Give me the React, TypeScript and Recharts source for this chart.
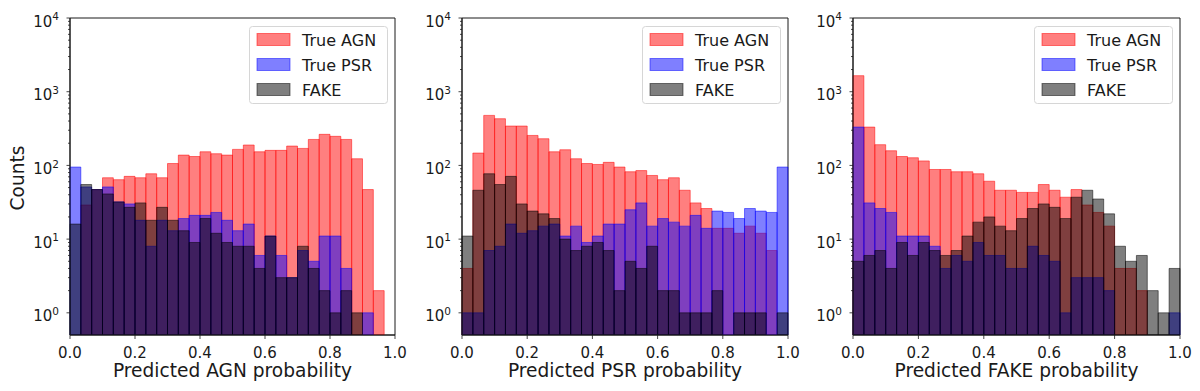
import { BarChart, Bar, XAxis, YAxis, ReferenceArea, Legend } from 'recharts';

// lower edge of each of the 30 histogram bins
const BIN_LO = [
  0, 0.033, 0.067, 0.1, 0.133, 0.167, 0.2, 0.233, 0.267, 0.3,
  0.333, 0.367, 0.4, 0.433, 0.467, 0.5, 0.533, 0.567, 0.6, 0.633,
  0.667, 0.7, 0.733, 0.767, 0.8, 0.833, 0.867, 0.9, 0.933, 0.967,
];

// Predicted AGN probability
const AGN_1 = [null, 29, 47, 68, 64, 71, 68, 77, 68, 106, 138, 132, 153, 144, 138, 165, 189, 153, 160, 160, 183, 170, 225, 264, 248, 225, 123, 47, 2, null];
const PSR_1 = [95, 51, 47, 51, 32, 30, 18, 8, 18, 13, 19, 21, 21, 23, 18, 13, 16, 6, 11, 6, 3, 7, 5, 11, 11, 4, null, 1, null, null];
const FAKE_1 = [16, 55, 47, 41, 32, 27, 31, 18, 27, 18, 13, 9, 19, 12, 9, 8, 8, 4, 11, 3, 3, 8, 4, 2, 1, 2, 1, null, null, null];

// Predicted PSR probability
const AGN_2 = [4, 147, 477, 430, 342, 342, 255, 230, 153, 163, 123, 106, 103, 110, 95, 82, 85, 73, 64, 68, 46, 31, 26, 14, 14, 12, 15, 12, 7, null];
const PSR_2 = [1, 1, 7, 8, 16, 12, 13, 15, 16, 11, 15, 9, 11, 16, 16, 25, 31, 15, 19, 17, 15, 21, 14, 24, 23, 19, 26, 24, 23, 95];
const FAKE_2 = [11, 46, 77, 55, 71, 30, 24, 22, 19, 10, 7, 8, 9, 7, 2, 5, 4, 8, 2, 2, 1, 1, 1, 2, null, 1, 1, 1, null, 1];

// Predicted FAKE probability
const AGN_3 = [1650, 331, 191, 158, 132, 127, 115, 88, 88, 82, 82, 77, 61, 46, 46, 43, 43, 55, 46, 37, 47, 29, 23, 15, 4, 4, 2, null, null, null];
const PSR_3 = [331, 31, 26, 23, 11, 11, 11, 8, 4, 6, 5, 9, 6, 6, 4, 4, 8, 6, 5, 1, 3, 3, 3, 2, null, null, null, null, null, 1];
const FAKE_3 = [5, 6, 7, 4, 9, 6, 9, 7, 6, 7, 11, 17, 20, 15, 13, 19, 26, 30, 27, 19, 37, 46, 35, 22, 8, 5, 6, 2, 1, 4];

// x tick labels sit on every 6th bin edge (0.0 ... 1.0)
const X_TICK_LABELS = ['0.0', '0.2', '0.4', '0.6', '0.8', '1.0'];
const Y_TICKS = [
  1, 2, 3, 4, 5, 6, 7, 8, 9,
  10, 20, 30, 40, 50, 60, 70, 80, 90,
  100, 200, 300, 400, 500, 600, 700, 800, 900,
  1000, 2000, 3000, 4000, 5000, 6000, 7000, 8000, 9000, 10000,
];

const LEGEND_ITEMS = [
  { name: 'True AGN', fill: 'rgba(255,0,0,0.5)', stroke: 'rgba(255,0,0,0.5)' },
  { name: 'True PSR', fill: 'rgba(0,0,255,0.5)', stroke: 'rgba(0,0,255,0.5)' },
  { name: 'FAKE', fill: 'rgba(0,0,0,0.5)', stroke: 'rgba(0,0,0,0.5)' },
];

const INK = '#1a1a1a';
const PLOT_LEFT = 70;
const RIGHT_PAD = 16;

const LogTick = (props: any) => {
  const { x, y, payload } = props;
  const v = payload.value;
  const exp = Math.log10(v);
  const major = Math.abs(exp - Math.round(exp)) < 1e-6;
  return (
    <g>
      <line x1={x - (major ? 3.5 : 2)} x2={x} y1={y} y2={y} stroke={INK} strokeWidth={0.8} />
      {major && (
        <text x={x - 11} y={y + 8.5} textAnchor="end" fontSize={15} fill={INK}>
          10<tspan dy={-6.2} fontSize={10.5}>{Math.round(exp)}</tspan>
        </text>
      )}
    </g>
  );
};

// ticks on the bin axis: draw at bin edges, every 6th bin, plus the right edge
const BinTick = (props: any) => {
  const { x, y, index, bw, last } = props;
  // tick x may be band start or band centre depending on the scale; snap to the band start
  const frac = Math.round(((x - PLOT_LEFT) / bw - index) * 2) / 2;
  const start = x - frac * bw;
  const marks: { px: number; label: string }[] = [];
  if (index % 6 === 0) marks.push({ px: start, label: X_TICK_LABELS[index / 6] });
  if (index === last) marks.push({ px: start + bw, label: X_TICK_LABELS[X_TICK_LABELS.length - 1] });
  return (
    <g>
      {marks.map((m) => (
        <g key={m.label}>
          <line x1={m.px} x2={m.px} y1={y} y2={y + 4} stroke={INK} strokeWidth={0.8} />
          <text x={m.px} y={y + 22.5} textAnchor="middle" fontSize={15} fill={INK}>{m.label}</text>
        </g>
      ))}
    </g>
  );
};

const XTitle = ({ cx, text }: any) => (
  <text x={cx} y={377} textAnchor="middle" fontSize={18.6} fill={INK}>{text}</text>
);

const YTitle = () => (
  <text x={24} y={178} textAnchor="middle" fontSize={18.6} fill={INK} transform="rotate(-90, 24, 178)">Counts</text>
);

const LegendBox = () => (
  <svg width={140} height={79} style={{ display: 'block' }}>
    <rect x={0.5} y={0.5} width={138} height={77} rx={3} fill="#fff" fillOpacity={0.8} stroke="#d6d6d6" />
    {LEGEND_ITEMS.map((it, i) => (
      <g key={it.name}>
        <rect x={8} y={7.5 + i * 25} width={33} height={12} fill={it.fill} stroke={it.stroke} />
        <text x={53} y={19.5 + i * 25} fontSize={16} fill={INK}>{it.name}</text>
      </g>
    ))}
  </svg>
);

interface PanelProps {
  left: number;
  plotWidth: number;
  agn: (number | null)[];
  psr: (number | null)[];
  fake: (number | null)[];
  xLabel: string;
  yLabel?: boolean;
}

const Panel = ({ left, plotWidth, agn, psr, fake, xLabel, yLabel }: PanelProps) => {
  const data = BIN_LO.map((b, i) => ({ bin: b, agn: agn[i], psr: psr[i], fake: fake[i] }));
  const bw = plotWidth / BIN_LO.length;
  const barSize = bw - 0.01;
  return (
    <div style={{ position: 'absolute', left, top: 0 }}>
      <BarChart
        width={PLOT_LEFT + plotWidth + RIGHT_PAD}
        height={391}
        data={data}
        margin={{ top: 18, right: RIGHT_PAD, bottom: 0, left: 0 }}
        barCategoryGap={0}
      >
        <XAxis
          xAxisId="a"
          dataKey="bin"
          interval={0}
          height={56}
          tickSize={0}
          tickMargin={0}
          tickLine={false}
          tick={<BinTick bw={bw} last={BIN_LO.length - 1} />}
          axisLine={{ stroke: INK }}
          label={<XTitle cx={PLOT_LEFT + plotWidth / 2} text={xLabel} />}
        />
        <XAxis xAxisId="p" dataKey="bin" hide />
        <XAxis xAxisId="f" dataKey="bin" hide />
        <YAxis
          type="number"
          scale="log"
          domain={[0.5, 10000]}
          allowDataOverflow
          ticks={Y_TICKS}
          interval={0}
          width={PLOT_LEFT}
          tickSize={0}
          tickMargin={0}
          tickLine={false}
          tick={<LogTick />}
          axisLine={{ stroke: INK }}
          label={yLabel ? <YTitle /> : undefined}
        />
        <Bar xAxisId="a" dataKey="agn" name="True AGN" fill="rgba(255,0,0,0.5)" stroke="rgba(255,0,0,0.5)" barSize={barSize} isAnimationActive={false} />
        <Bar xAxisId="p" dataKey="psr" name="True PSR" fill="rgba(0,0,255,0.5)" stroke="rgba(0,0,255,0.5)" barSize={barSize} isAnimationActive={false} />
        <Bar xAxisId="f" dataKey="fake" name="FAKE" fill="rgba(0,0,0,0.5)" stroke="rgba(0,0,0,0.5)" barSize={barSize} isAnimationActive={false} />
        <ReferenceArea xAxisId="a" y1={0.5} y2={10000} fill="none" stroke={INK} ifOverflow="visible" />
        <Legend
          layout="vertical"
          align="center"
          verticalAlign="middle"
          content={<LegendBox />}
          wrapperStyle={{ top: 26, left: PLOT_LEFT + plotWidth - 146, width: 140, height: 79 }}
        />
      </BarChart>
    </div>
  );
};

export default function App() {
  return (
    <div style={{ position: 'absolute', left: 0, top: 0, width: 1200, height: 391, background: '#fff', fontFamily: '"DejaVu Sans", sans-serif' }}>
      <Panel left={0} plotWidth={325} agn={AGN_1} psr={PSR_1} fake={FAKE_1} xLabel="Predicted AGN probability" yLabel />
      <Panel left={392} plotWidth={326} agn={AGN_2} psr={PSR_2} fake={FAKE_2} xLabel="Predicted PSR probability" />
      <Panel left={783} plotWidth={327} agn={AGN_3} psr={PSR_3} fake={FAKE_3} xLabel="Predicted FAKE probability" />
    </div>
  );
}
